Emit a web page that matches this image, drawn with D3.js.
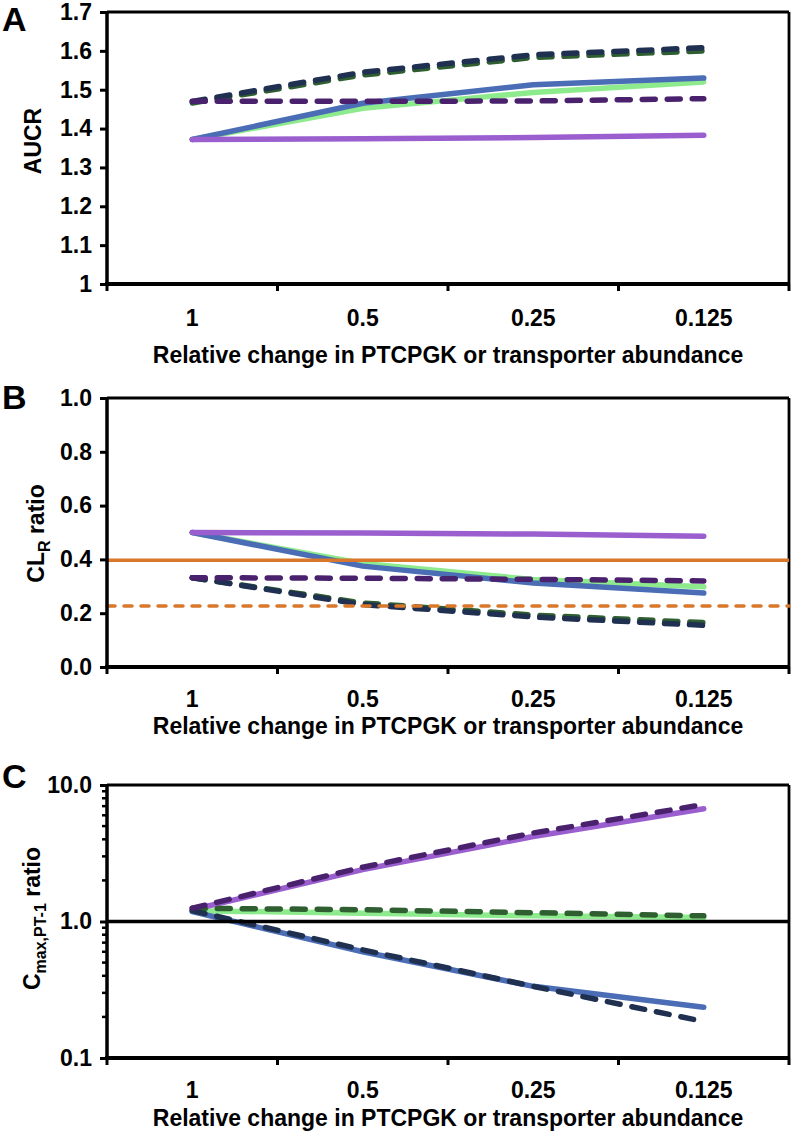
<!DOCTYPE html>
<html>
<head>
<meta charset="utf-8">
<script src="https://cdn.jsdelivr.net/npm/d3@7"></script>
<style>
html,body{margin:0;padding:0;background:#fff;}
text{font-family:"Liberation Sans",Arial,Helvetica,sans-serif;font-weight:bold;fill:#000;}
</style>
</head>
<body>
<svg id="chart" width="796" height="1134"></svg>
<script>
// ---------- data ----------
const categories = ["1", "0.5", "0.25", "0.125"];

// Panel A: AUCR
const aucrBlue       = [1.372, 1.465, 1.513, 1.530];
const aucrGreen      = [1.372, 1.452, 1.493, 1.520];
const aucrPurple     = [1.372, 1.374, 1.377, 1.383];
const aucrGreenDash  = [1.466, 1.538, 1.583, 1.600];
const aucrNavyDash   = [1.470, 1.545, 1.590, 1.608];
const aucrPurpleDash = [1.470, 1.470, 1.471, 1.477];
const aucrTicks = [1, 1.1, 1.2, 1.3, 1.4, 1.5, 1.6, 1.7];
const aucrTickLabels = ["1", "1.1", "1.2", "1.3", "1.4", "1.5", "1.6", "1.7"];

// Panel B: CLR ratio
const clrBlue       = [0.500, 0.375, 0.312, 0.275];
const clrGreen      = [0.500, 0.385, 0.325, 0.298];
const clrPurple     = [0.500, 0.498, 0.494, 0.486];
const clrGreenDash  = [0.332, 0.238, 0.193, 0.165];
const clrNavyDash   = [0.332, 0.232, 0.186, 0.155];
const clrPurpleDash = [0.332, 0.330, 0.326, 0.320];
const clrRefSolid = 0.397;
const clrRefDash  = 0.227;
const clrTicks = [0, 0.2, 0.4, 0.6, 0.8, 1.0];
const clrTickLabels = ["0.0", "0.2", "0.4", "0.6", "0.8", "1.0"];

// Panel C: Cmax,PT-1 ratio (log)
const cmaxBlue       = [1.18, 0.60, 0.335, 0.235];
const cmaxGreen      = [1.20, 1.15, 1.10, 1.07];
const cmaxPurple     = [1.22, 2.40, 4.20, 6.70];
const cmaxGreenDash  = [1.25, 1.22, 1.16, 1.10];
const cmaxNavyDash   = [1.20, 0.62, 0.335, 0.185];
const cmaxPurpleDash = [1.25, 2.50, 4.45, 7.20];
const cmaxTicks = [0.1, 1, 10];
const cmaxTickLabels = ["0.1", "1.0", "10.0"];

const xTitle = "Relative change in PTCPGK or transporter abundance";

// ---------- styles ----------
const C = {
  blue: "#4A6DB5", green: "#8DEB8D", purple: "#9B5ECF",
  navy: "#1F3050", dgreen: "#2F5E31", dpurple: "#4A216D", orange: "#D9782B"
};
const DASH = "13,12";
const FS = 23;

const svg = d3.select("#chart");
const L = 107, R = 789;

function panel(cfg) {
  const g = svg.append("g");
  const x = d3.scaleBand().domain(categories).range([L, R]).paddingInner(0).paddingOuter(0);
  const y = cfg.y;
  const top = cfg.top, bot = cfg.bottom;

  // box
  g.append("line").attr("x1", L).attr("x2", R).attr("y1", top).attr("y2", top)
    .attr("stroke", "#000").attr("stroke-width", 2.8);
  g.append("line").attr("x1", R).attr("x2", R).attr("y1", top).attr("y2", bot)
    .attr("stroke", "#000").attr("stroke-width", 2.8);

  // y axis ticks
  const yAxis = d3.axisLeft(y).tickValues(cfg.yTicks).tickSize(7).tickPadding(8)
    .tickFormat((d, i) => cfg.yTickLabels[i]);
  const ya = g.append("g").attr("transform", `translate(${L},0)`).call(yAxis);
  ya.select(".domain").remove();
  ya.selectAll("line").attr("stroke", "#000").attr("stroke-width", 3);
  ya.selectAll("text").attr("font-size", FS).attr("font-family", "Liberation Sans, Arial, sans-serif")
    .attr("font-weight", "bold").attr("fill", "#000");

  if (cfg.minor) {
    const minors = y.ticks().filter(v => !cfg.yTicks.some(t => Math.abs(t - v) < 1e-9));
    g.append("g").selectAll("line").data(minors).join("line")
      .attr("x1", L - 5).attr("x2", L).attr("y1", d => y(d)).attr("y2", d => y(d))
      .attr("stroke", "#000").attr("stroke-width", 2.5);
  }

  // x boundary ticks
  const bounds = categories.map(c => x(c)).concat([R]);
  g.append("g").selectAll("line").data(bounds).join("line")
    .attr("x1", d => d).attr("x2", d => d).attr("y1", bot).attr("y2", bot + 7)
    .attr("stroke", "#000").attr("stroke-width", 3);

  // x labels via axis
  const xAxis = d3.axisBottom(x).tickSize(0).tickPadding(0);
  const xa = g.append("g").attr("transform", `translate(0,${bot})`).call(xAxis);
  xa.select(".domain").remove();
  xa.selectAll("text").attr("dy", null).attr("y", cfg.tickOff).attr("font-size", FS)
    .attr("font-family", "Liberation Sans, Arial, sans-serif").attr("font-weight", "bold").attr("fill", "#000");

  // x title
  g.append("text").attr("x", (L + R) / 2).attr("y", bot + cfg.titleOff)
    .attr("text-anchor", "middle").attr("font-size", FS).text(xTitle);

  // y title
  const yt = g.append("text").attr("transform", `translate(${cfg.yTitleX},${(top + bot) / 2 + (cfg.yTitleShift || 0)}) rotate(-90)`)
    .attr("text-anchor", "middle").attr("font-size", FS);
  cfg.yTitle.forEach(p => {
    const ts = yt.append("tspan").text(p.t);
    if (p.sub) ts.attr("font-size", 16).attr("dy", 6);
    if (p.after) ts.attr("dy", -6);
  });

  // panel letter
  g.append("text").attr("x", cfg.letterX).attr("y", cfg.letterY).attr("font-size", 34).text(cfg.letter);

  const line = d3.line().x((d, i) => x(categories[i]) + x.bandwidth() / 2).y(d => y(d));
  const plotG = g.append("g");
  cfg.series.forEach(s => {
    plotG.append("path").attr("d", line(s.v)).attr("fill", "none")
      .attr("stroke", s.c).attr("stroke-width", 5.5).attr("stroke-linecap", "round")
      .attr("stroke-linejoin", "round").attr("stroke-dasharray", s.dash ? DASH : null);
  });

  if (cfg.refs) {
    cfg.refs.forEach(r => {
      plotG.append("line").attr("x1", L).attr("x2", R).attr("y1", y(r.v)).attr("y2", y(r.v))
        .attr("stroke", C.orange).attr("stroke-width", 3.5)
        .attr("stroke-dasharray", r.dash ? "8,9" : null).attr("stroke-linecap", r.dash ? "round" : "butt");
    });
  }
  if (cfg.unity) {
    g.append("line").attr("x1", L).attr("x2", R).attr("y1", y(1)).attr("y2", y(1))
      .attr("stroke", "#000").attr("stroke-width", 3.5);
  }

  // left and bottom axes lines (thick)
  g.append("line").attr("x1", L).attr("x2", L).attr("y1", top - 1).attr("y2", bot + 2)
    .attr("stroke", "#000").attr("stroke-width", 3.5);
  g.append("line").attr("x1", L - 2).attr("x2", R + 1).attr("y1", bot).attr("y2", bot)
    .attr("stroke", "#000").attr("stroke-width", 4);
}

panel({
  letter: "A", letterX: 2, letterY: 31,
  top: 12, bottom: 284,
  y: d3.scaleLinear().domain([1, 1.7]).range([284, 12]),
  yTicks: aucrTicks, yTickLabels: aucrTickLabels,
  yTitle: [{t: "AUCR"}], yTitleX: 41, yTitleShift: -7,
  tickOff: 42, titleOff: 79,
  series: [
    {v: aucrGreen, c: C.green}, {v: aucrBlue, c: C.blue}, {v: aucrPurple, c: C.purple},
    {v: aucrGreenDash, c: C.dgreen, dash: true}, {v: aucrNavyDash, c: C.navy, dash: true},
    {v: aucrPurpleDash, c: C.dpurple, dash: true}
  ]
});

panel({
  letter: "B", letterX: 2, letterY: 409,
  top: 398, bottom: 667,
  y: d3.scaleLinear().domain([0, 1]).range([667, 398]),
  yTicks: clrTicks, yTickLabels: clrTickLabels,
  yTitle: [{t: "CL"}, {t: "R", sub: true}, {t: " ratio", after: true}], yTitleX: 44, yTitleShift: 1,
  tickOff: 40, titleOff: 67,
  series: [
    {v: clrGreen, c: C.green}, {v: clrBlue, c: C.blue}, {v: clrPurple, c: C.purple},
    {v: clrGreenDash, c: C.dgreen, dash: true}, {v: clrNavyDash, c: C.navy, dash: true},
    {v: clrPurpleDash, c: C.dpurple, dash: true}
  ],
  refs: [{v: clrRefSolid}, {v: clrRefDash, dash: true}]
});

panel({
  letter: "C", letterX: 2, letterY: 788,
  top: 785, bottom: 1058,
  y: d3.scaleLog().domain([0.1, 10]).range([1058, 785]),
  yTicks: cmaxTicks, yTickLabels: cmaxTickLabels, minor: true,
  yTitle: [{t: "C"}, {t: "max,PT-1", sub: true}, {t: " ratio", after: true}], yTitleX: 40, yTitleShift: -3,
  tickOff: 40, titleOff: 68,
  series: [
    {v: cmaxGreen, c: C.green}, {v: cmaxBlue, c: C.blue}, {v: cmaxPurple, c: C.purple},
    {v: cmaxGreenDash, c: C.dgreen, dash: true}, {v: cmaxNavyDash, c: C.navy, dash: true},
    {v: cmaxPurpleDash, c: C.dpurple, dash: true}
  ],
  unity: true
});
</script>
</body>
</html>
